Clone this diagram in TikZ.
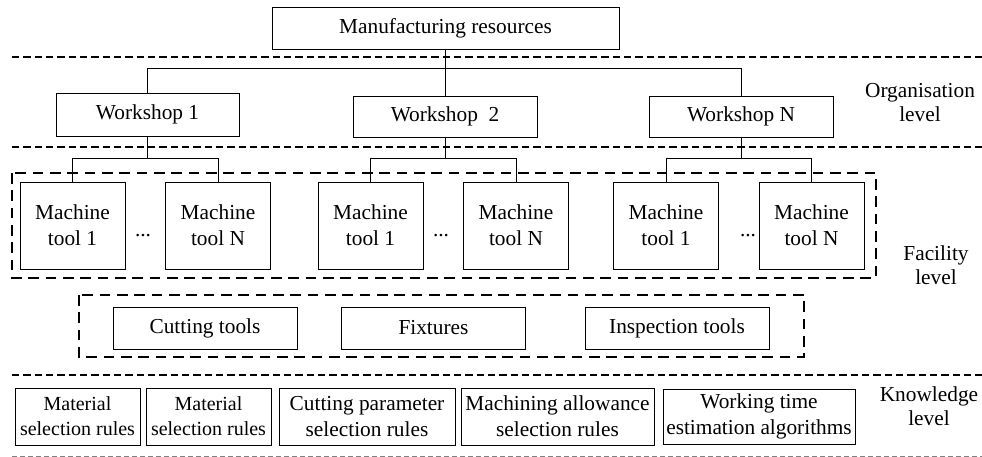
\documentclass[tikz,border=0pt]{standalone}
\usepackage{fontspec}
\setmainfont{Liberation Serif}
\usetikzlibrary{positioning}

\tikzset{
  box/.style={draw,line width=0.6pt,inner sep=0pt,align=center,
    font=\fontsize{16}{19.5}\selectfont},
  smallbox/.style={box,font=\fontsize{15}{18.75}\selectfont},
  levelline/.style={line width=1pt,dash pattern=on 5.5pt off 3pt},
  groupline/.style={line width=1.2pt,dash pattern=on 8pt off 5pt},
  levellabel/.style={align=center,font=\fontsize{16}{18}\selectfont}
}

\begin{document}
\begin{tikzpicture}[x=0.75pt,y=-0.75pt]
    \useasboundingbox (0,0) rectangle (982,457);

    \draw[levelline] (12,57) -- (982,57);
    \draw[levelline] (12,147) -- (982,147);
    \draw[levelline] (12,375) -- (982,375);
    \draw[line width=0.6pt,gray,dash pattern=on 3.5pt off 2.5pt] (12,456) -- (982,456);

    \node[box,minimum width=347*0.75pt,minimum height=42*0.75pt] (res) at (445.5,28) {Manufacturing resources};
    \node[box,minimum width=183*0.75pt,minimum height=43*0.75pt] (ws1) at (147.5,114.5) {Workshop 1};
    \node[box,minimum width=184*0.75pt,minimum height=41*0.75pt] (ws2) at (445,116.5) {Workshop\ \ 2};
    \node[box,minimum width=184*0.75pt,minimum height=41*0.75pt] (wsN) at (741,116.5) {Workshop N};

    \coordinate (bus) at (445,68);
    \draw[line width=0.6pt] (res.south -| ws2) -- (ws2.north);
    \draw[line width=0.6pt] (ws1.north) -- (ws1.north |- bus) -- (wsN.north |- bus) -- (wsN.north);

    \foreach \w/\a/\b/\d in {ws1/72.5/218/143,ws2/370.5/516/441,wsN/666/811.5/748}{
      \node[box,minimum width=105*0.75pt,minimum height=87*0.75pt] (\w-m1) at (\a,225.5) {Machine\\tool 1};
      \node[box,minimum width=105*0.75pt,minimum height=87*0.75pt] (\w-mN) at (\b,225.5) {Machine\\tool N};
      \node[levellabel,anchor=base] (\w-dots) at (\d,236) {...};
      \coordinate (\w-bus) at (\d,158);
      \draw[line width=0.6pt] (\w.south) -- (\w.south |- \w-bus);
      \draw[line width=0.6pt] (\w-m1.north) -- (\w-m1.north |- \w-bus) -- (\w-mN.north |- \w-bus) -- (\w-mN.north);
    }

    \draw[groupline] (12,173) rectangle (876,278);

    \node[box,minimum width=184*0.75pt,minimum height=42*0.75pt] (cut) at (205,328) {Cutting tools};
    \node[box,minimum width=184*0.75pt,minimum height=42*0.75pt] (fix) at (433.5,328) {Fixtures};
    \node[box,minimum width=184*0.75pt,minimum height=42*0.75pt] (insp) at (677,328) {Inspection tools};
    \draw[groupline] (79,295) rectangle (804,357);

    \node[smallbox,minimum width=125*0.75pt,minimum height=57*0.75pt] (k1) at (77.5,416.5) {Material\\selection rules};
    \node[smallbox,minimum width=125*0.75pt,minimum height=57*0.75pt] (k2) at (208.5,416.5) {Material\\selection rules};
    \node[box,minimum width=176*0.75pt,minimum height=57*0.75pt] (k3) at (367,416.5) {Cutting parameter\\selection rules};
    \node[box,minimum width=193*0.75pt,minimum height=57*0.75pt] (k4) at (557.5,416.5) {Machining allowance\\selection rules};
    \node[box,minimum width=192*0.75pt,minimum height=55*0.75pt] (k5) at (759,416.5) {Working time\\estimation algorithms};

    \node[levellabel] (orglevel) at (920,103) {Organisation\\level};
    \node[levellabel] (faclevel) at (936,265) {Facility\\level};
    \node[levellabel] (knowlevel) at (929,406) {Knowledge\\level};
  \end{tikzpicture}
\end{document}
